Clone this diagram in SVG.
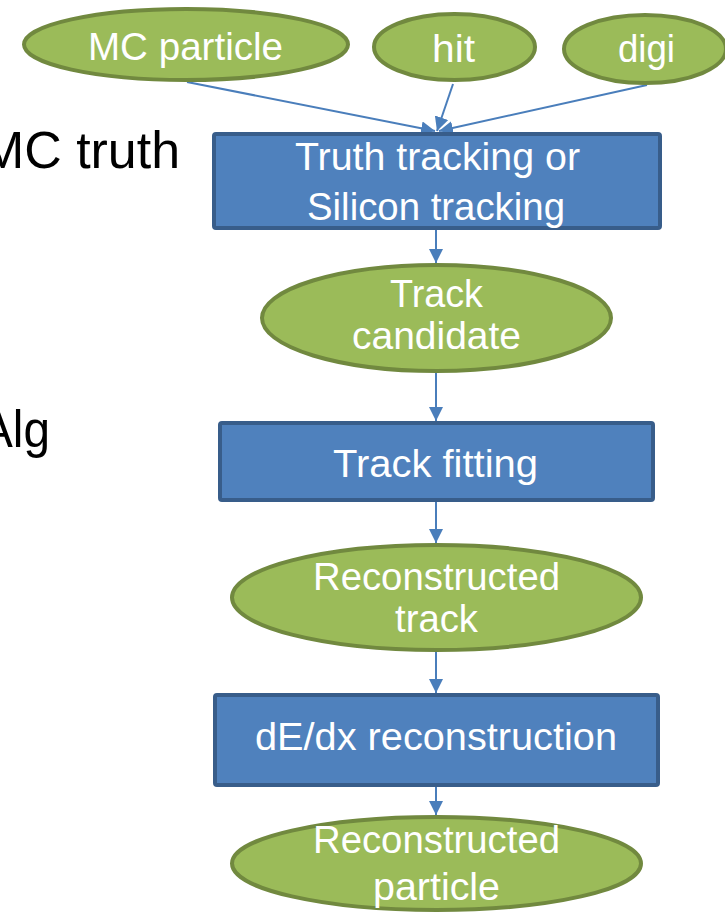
<svg xmlns="http://www.w3.org/2000/svg" width="725" height="913" viewBox="0 0 725 913">
<style>
.ell{fill:#9BBB59;stroke:#71893F;stroke-width:4}
.box{fill:#4F81BD;stroke:#385D8A;stroke-width:4}
.t{font-family:"Liberation Sans",Arial,sans-serif;font-size:38px;fill:#FFFFFF;text-anchor:middle}
.lbl{font-family:"Liberation Sans",Arial,sans-serif;font-size:52px;fill:#000000}
.c{stroke:#4A7EBB;stroke-width:2;fill:none;marker-end:url(#ah)}
</style>
<defs>
<marker id="ah" markerUnits="userSpaceOnUse" markerWidth="14" markerHeight="14" refX="14" refY="7" orient="auto">
<path d="M0,0 L14,7 L0,14 z" fill="#4A7EBB"/>
</marker>
</defs>
<rect width="725" height="913" fill="#FFFFFF"/>
<g id="labels">
<text class="lbl" x="-19" y="168" textLength="199" lengthAdjust="spacingAndGlyphs">MC truth</text>
<text class="lbl" x="-19" y="447" textLength="69" lengthAdjust="spacingAndGlyphs">Alg</text>
</g>
<g id="connectors">
<line class="c" x1="187" y1="82" x2="435" y2="131"/>
<line class="c" x1="453" y1="84" x2="437" y2="131"/>
<line class="c" x1="647" y1="85" x2="439" y2="131"/>
<line class="c" x1="436" y1="230" x2="436" y2="263"/>
<line class="c" x1="436" y1="373" x2="436" y2="421"/>
<line class="c" x1="436" y1="502" x2="436" y2="543"/>
<line class="c" x1="436" y1="652" x2="436" y2="693"/>
<line class="c" x1="436" y1="787" x2="436" y2="815"/>
</g>
<g id="mc-particle">
<ellipse class="ell" cx="186" cy="44.5" rx="162" ry="35.5"/>
<text class="t" x="185.5" y="60" textLength="195" lengthAdjust="spacingAndGlyphs">MC particle</text>
</g>
<g id="hit">
<ellipse class="ell" cx="454.5" cy="47" rx="80.5" ry="33"/>
<text class="t" x="453.5" y="62" textLength="43" lengthAdjust="spacingAndGlyphs">hit</text>
</g>
<g id="digi">
<ellipse class="ell" cx="645" cy="49" rx="81" ry="34"/>
<text class="t" x="646.5" y="62" textLength="57" lengthAdjust="spacingAndGlyphs">digi</text>
</g>
<g id="tracking">
<rect class="box" x="214" y="134" width="446" height="94" rx="2"/>
<text class="t" x="437.5" y="170" textLength="285" lengthAdjust="spacingAndGlyphs">Truth tracking or</text>
<text class="t" x="436" y="220" textLength="258" lengthAdjust="spacingAndGlyphs">Silicon tracking</text>
</g>
<g id="track-candidate">
<ellipse class="ell" cx="436.5" cy="318" rx="174.5" ry="53"/>
<text class="t" x="436.5" y="307" textLength="93" lengthAdjust="spacingAndGlyphs">Track</text>
<text class="t" x="436.5" y="349" textLength="169" lengthAdjust="spacingAndGlyphs">candidate</text>
</g>
<g id="track-fitting">
<rect class="box" x="220" y="423" width="433" height="77" rx="2"/>
<text class="t" x="435.5" y="477" textLength="205" lengthAdjust="spacingAndGlyphs">Track fitting</text>
</g>
<g id="reconstructed-track">
<ellipse class="ell" cx="436.5" cy="597.5" rx="204.5" ry="52.5"/>
<text class="t" x="436.5" y="590" textLength="247" lengthAdjust="spacingAndGlyphs">Reconstructed</text>
<text class="t" x="436.5" y="632" textLength="83" lengthAdjust="spacingAndGlyphs">track</text>
</g>
<g id="dedx">
<rect class="box" x="215" y="695" width="443" height="90" rx="2"/>
<text class="t" x="436" y="750" textLength="362" lengthAdjust="spacingAndGlyphs">dE/dx reconstruction</text>
</g>
<g id="reconstructed-particle">
<ellipse class="ell" cx="436.5" cy="863.5" rx="204.5" ry="46.5"/>
<text class="t" x="436.5" y="853" textLength="247" lengthAdjust="spacingAndGlyphs">Reconstructed</text>
<text class="t" x="436.5" y="900" textLength="127" lengthAdjust="spacingAndGlyphs">particle</text>
</g>
</svg>
